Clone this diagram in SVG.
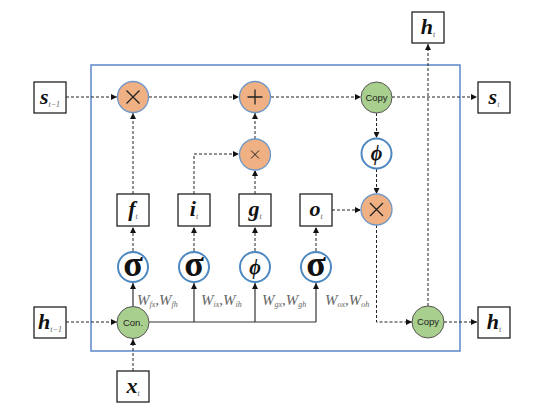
<svg xmlns="http://www.w3.org/2000/svg" width="537" height="415" viewBox="0 0 537 415">
<defs>
<marker id="ah" viewBox="0 0 6 6" refX="6" refY="3" markerWidth="6" markerHeight="6" markerUnits="userSpaceOnUse" orient="auto">
<path d="M0,0 L6,3 L0,6 z" fill="#111"/>
</marker>
</defs>
<style>
.frame{fill:none;stroke:#5b87c9;stroke-width:1.5}
.box{fill:#fff;stroke:#222;stroke-width:1.3}
.op{fill:#efb084;stroke:#6f97c8;stroke-width:1.3}
.cp{fill:#a8cf8d;stroke:#555;stroke-width:1}
.act{fill:#fff;stroke:#4d88c0;stroke-width:2}
.d{fill:none;stroke:#222;stroke-width:1;stroke-dasharray:3,2;marker-end:url(#ah)}
.s{fill:none;stroke:#333;stroke-width:1.2}
.sa{fill:none;stroke:#333;stroke-width:1.2;marker-end:url(#ah)}
.sym{stroke:#222;stroke-width:1.3;fill:none}
.var{font-family:"Liberation Serif",serif;font-style:italic;font-weight:bold;font-size:22px;fill:#111;text-anchor:middle}
.sub{font-family:"Liberation Serif",serif;font-style:italic;font-weight:normal;font-size:8px;fill:#666}
.lbl{font-family:"Liberation Sans",Arial,sans-serif;font-size:9.5px;fill:#222;text-anchor:middle}
.sig{font-family:"Liberation Serif",serif;font-weight:bold;font-size:36px;fill:#111;text-anchor:middle}
.phi{font-family:"Liberation Serif",serif;font-style:italic;font-weight:bold;font-size:20px;fill:#111;text-anchor:middle}
.w{font-family:"Liberation Serif",serif;font-style:italic;font-size:15px;fill:#666}
.ws{font-family:"Liberation Serif",serif;font-style:italic;font-size:8px;fill:#666}
</style>
<rect class="frame" x="91" y="65" width="369" height="286"/>

<g id="connectors">
<path class="d" d="M66,97 H117"/>
<path class="d" d="M149,97 H239"/>
<path class="d" d="M271,97 H361"/>
<path class="d" d="M392,97 H477"/>
<path class="d" d="M133,194 V113"/>
<path class="d" d="M194,194 V154 H239"/>
<path class="d" d="M255,194 V170"/>
<path class="d" d="M255,139 V113"/>
<path class="d" d="M376.5,113 V138"/>
<path class="d" d="M376.5,169 V194"/>
<path class="d" d="M332,210 H361"/>
<path class="d" d="M376.5,225 V322 H412"/>
<path class="d" d="M428,306 V44"/>
<path class="d" d="M444,322 H477"/>
<path class="d" d="M66,322 H117"/>
<path class="d" d="M133,371 V339"/>
<path class="d" d="M133,251 V227"/>
<path class="d" d="M194,251 V227"/>
<path class="d" d="M255,251 V227"/>
<path class="d" d="M316,251 V227"/>
<path class="sa" d="M133,306 V283"/>
<path class="s" d="M149,322 H316"/>
<path class="sa" d="M194,322 V283"/>
<path class="sa" d="M255,322 V283"/>
<path class="sa" d="M316,322 V283"/>
</g>

<g id="s_prev"><rect class="box" x="34" y="82" width="32" height="31"/><text class="var" x="50" y="104">s<tspan class="sub" dy="3">t−1</tspan></text></g>
<g id="s_t"><rect class="box" x="478" y="82" width="32" height="31"/><text class="var" x="494" y="104">s<tspan class="sub" dy="3">t</tspan></text></g>
<g id="h_top"><rect class="box" x="412" y="12" width="32" height="31"/><text class="var" x="428" y="34">h<tspan class="sub" dy="3">t</tspan></text></g>
<g id="h_prev"><rect class="box" x="34" y="307" width="32" height="31"/><text class="var" x="50" y="329">h<tspan class="sub" dy="3">t−1</tspan></text></g>
<g id="h_t"><rect class="box" x="478" y="307" width="32" height="31"/><text class="var" x="494" y="329">h<tspan class="sub" dy="3">t</tspan></text></g>
<g id="x_t"><rect class="box" x="117" y="371" width="32" height="31"/><text class="var" x="133" y="393">x<tspan class="sub" dy="3">t</tspan></text></g>
<g id="f_t"><rect class="box" x="117" y="194" width="32" height="32"/><text class="var" x="133" y="216">f<tspan class="sub" dy="3">t</tspan></text></g>
<g id="i_t"><rect class="box" x="178" y="194" width="32" height="32"/><text class="var" x="194" y="216">i<tspan class="sub" dy="3">t</tspan></text></g>
<g id="g_t"><rect class="box" x="239" y="194" width="32" height="32"/><text class="var" x="255" y="216">g<tspan class="sub" dy="3">t</tspan></text></g>
<g id="o_t"><rect class="box" x="300" y="194" width="32" height="32"/><text class="var" x="316" y="216">o<tspan class="sub" dy="3">t</tspan></text></g>

<g id="mul_f"><circle class="op" cx="133" cy="97" r="15.5"/><path class="sym" d="M126.5,90.5 L139.5,103.5 M139.5,90.5 L126.5,103.5"/></g>
<g id="add"><circle class="op" cx="255" cy="97" r="15.5"/><path class="sym" d="M247.5,97 H262.5 M255,89.5 V104.5"/></g>
<g id="mul_ig"><circle class="op" cx="255" cy="154.5" r="15.5"/><path class="sym" style="stroke-width:1" d="M251,150.5 L259,158.5 M259,150.5 L251,158.5"/></g>
<g id="mul_o"><circle class="op" cx="376.5" cy="209.5" r="15.5"/><path class="sym" d="M370,203 L383,216 M383,203 L370,216"/></g>
<g id="copy_s"><circle class="cp" cx="376.5" cy="97.5" r="15.5"/><text class="lbl" x="376.5" y="100.5">Copy</text></g>
<g id="copy_h"><circle class="cp" cx="428" cy="322" r="16"/><text class="lbl" x="428" y="325">Copy</text></g>
<g id="con"><circle class="cp" cx="133" cy="322.5" r="16"/><text class="lbl" x="133" y="325.5">Con.</text></g>
<g id="tanh_s"><circle class="act" cx="376.5" cy="153.5" r="15"/><text class="phi" x="376.5" y="160">ϕ</text></g>
<g id="sig_f"><circle class="act" cx="133" cy="267" r="15"/><text class="sig" x="133" y="275.5">σ</text></g>
<g id="sig_i"><circle class="act" cx="194" cy="267" r="15"/><text class="sig" x="194" y="275.5">σ</text></g>
<g id="tanh_g"><circle class="act" cx="255" cy="267" r="15"/><text class="phi" x="255" y="273.5">ϕ</text></g>
<g id="sig_o"><circle class="act" cx="316" cy="267" r="15"/><text class="sig" x="316" y="275.5">σ</text></g>

<g id="weights">
<text x="137" y="305"><tspan class="w">W</tspan><tspan class="ws" dy="2">fx</tspan><tspan class="w" dy="-2">,W</tspan><tspan class="ws" dy="2">fh</tspan></text>
<text x="201" y="305"><tspan class="w">W</tspan><tspan class="ws" dy="2">ix</tspan><tspan class="w" dy="-2">,W</tspan><tspan class="ws" dy="2">ih</tspan></text>
<text x="262" y="305"><tspan class="w">W</tspan><tspan class="ws" dy="2">gx</tspan><tspan class="w" dy="-2">,W</tspan><tspan class="ws" dy="2">gh</tspan></text>
<text x="325" y="305"><tspan class="w">W</tspan><tspan class="ws" dy="2">ox</tspan><tspan class="w" dy="-2">,W</tspan><tspan class="ws" dy="2">oh</tspan></text>
</g>
</svg>
